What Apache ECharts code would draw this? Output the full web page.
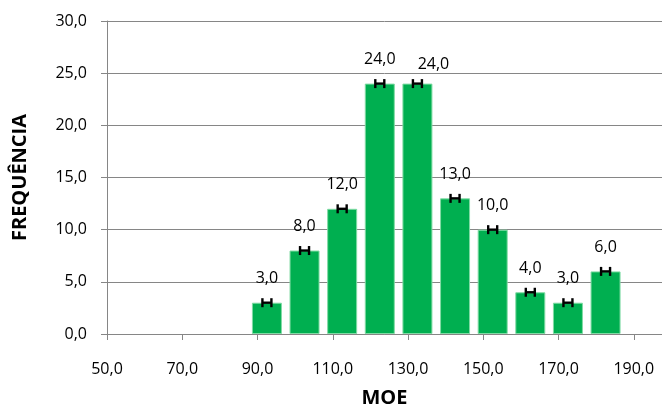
<!DOCTYPE html>
<html>
<head>
<meta charset="utf-8">
<script src="https://cdn.jsdelivr.net/npm/echarts@6/dist/echarts.min.js"></script>
<style>html,body{margin:0;padding:0;background:#fff}#c{width:662px;height:407px}</style>
</head>
<body>
<div id="c"></div>
<script>
var binCenters = [92.5, 102.5, 112.5, 122.5, 132.5, 142.5, 152.5, 162.5, 172.5, 182.5];
var frequencies = [3, 8, 12, 24, 24, 13, 10, 4, 3, 6];
var xTicks = [50, 70, 90, 110, 130, 150, 170, 190];
var yTicks = [0, 5, 10, 15, 20, 25, 30];

function fmt(v){ return Number(v).toFixed(1).replace('.', ','); }
var FONT = '"Open Sans"';
var pts = binCenters.map(function(x, i){ return [x, frequencies[i]]; });
// Excel nudged the label of the second tall bar so the two "24,0" labels do not collide
var barData = pts.map(function(p, i){
  var item = {value: p};
  if (i > 0 && frequencies[i] === frequencies[i-1] && frequencies[i] >= 20) {
    item.label = {offset: [16, 5]};
  }
  return item;
});

var chart = echarts.init(document.getElementById('c'), null, {renderer: 'canvas'});
chart.setOption({
  animation: false,
  backgroundColor: '#fff',
  grid: {left: 107, right: 0, top: 21, bottom: 73, containLabel: false, outerBoundsMode: 'none'},
  xAxis: {
    type: 'value', min: 50, max: 197.5,
    name: 'MOE', nameLocation: 'middle', nameGap: 54,
    nameTextStyle: {fontFamily: FONT, fontSize: 20, fontWeight: 'bold', color: '#000'},
    axisLine: {show: true, lineStyle: {color: '#868686', width: 1}},
    axisTick: {show: true, customValues: xTicks, length: 6, lineStyle: {color: '#868686'}},
    axisLabel: {customValues: xTicks, formatter: fmt, margin: 27, fontFamily: FONT, fontSize: 16, color: '#000'},
    splitLine: {show: false}
  },
  yAxis: {
    type: 'value', min: 0, max: 30, interval: 5,
    name: 'FREQUÊNCIA', nameLocation: 'middle', nameGap: 77, nameRotate: 90,
    nameTextStyle: {fontFamily: FONT, fontSize: 20, fontWeight: 'bold', color: '#000'},
    axisLine: {show: true, lineStyle: {color: '#868686', width: 1}},
    axisTick: {show: true, inside: false, length: 6, lineStyle: {color: '#868686'}},
    axisLabel: {formatter: fmt, margin: 20, fontFamily: FONT, fontSize: 16, color: '#000'},
    splitLine: {show: true, lineStyle: {color: '#868686', width: 1}}
  },
  series: [{
    type: 'bar',
    data: barData,
    barWidth: 30,
    itemStyle: {color: '#00AF50', borderColor: '#80dba4', borderWidth: 1},
    label: {
      show: true, position: 'top', distance: 16,
      formatter: function(p){ return fmt(p.value[1]); },
      fontFamily: FONT, fontSize: 16, color: '#000'
    },
    z: 2
  }, {
    type: 'custom',
    data: pts,
    z: 5,
    renderItem: function(params, api){
      var c = api.coord([api.value(0), api.value(1)]);
      var w = 4.5, h = 4.5;
      var st = {stroke: '#000', lineWidth: 2.4};
      return {type: 'group', children: [
        {type: 'line', shape: {x1: c[0]-w, y1: c[1], x2: c[0]+w, y2: c[1]}, style: st},
        {type: 'line', shape: {x1: c[0]-w, y1: c[1]-h, x2: c[0]-w, y2: c[1]+h}, style: st},
        {type: 'line', shape: {x1: c[0]+w, y1: c[1]-h, x2: c[0]+w, y2: c[1]+h}, style: st}
      ]};
    }
  }]
});
</script>
</body>
</html>
